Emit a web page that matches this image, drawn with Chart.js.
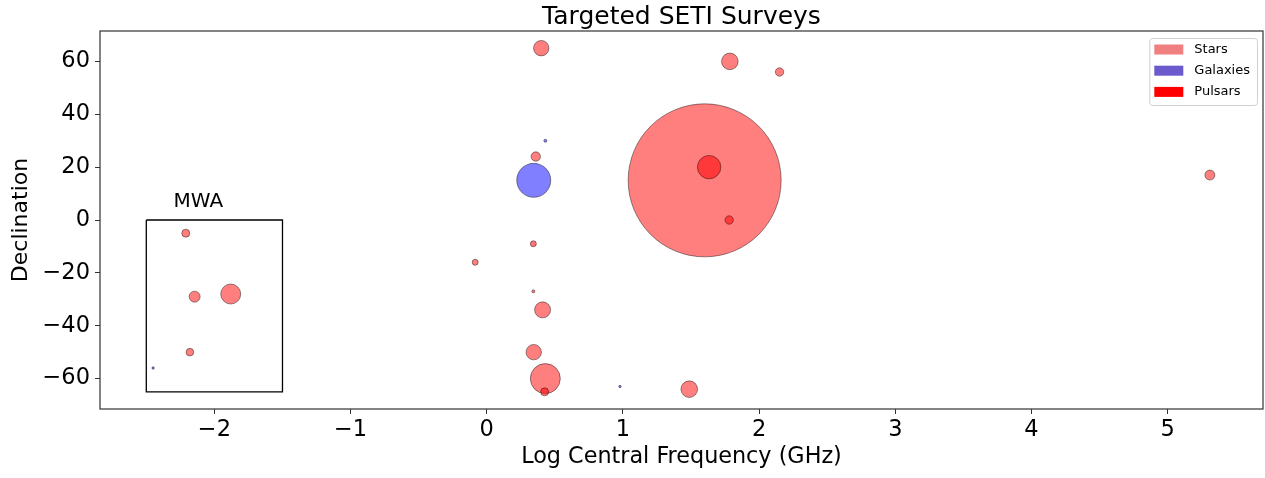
<!DOCTYPE html>
<html>
<head>
<meta charset="utf-8">
<script src="https://cdn.jsdelivr.net/npm/chart.js@4.4.0/dist/chart.umd.min.js"></script>
<style>
  html, body { margin: 0; padding: 0; background: #fff; }
  #wrap { width: 1265px; height: 478px; }
</style>
</head>
<body>
<div id="wrap"><canvas id="seti"></canvas></div>
<script>
// log10 central frequency (GHz), declination (deg), marker radius (px)
const starFreq = [0.40, 1.785, 2.15, 1.60, 0.36, 5.31, -0.085, -2.21, -2.145, -1.88, -2.18, 0.41, 0.345, 0.43, 1.487, 0.342];
const starDec  = [65, 60, 56, 15, 24, 17, -16, -5, -29, -28, -50, -34, -50, -60, -64, -27];
const starSize = [7.7, 8.3, 4.2, 76.5, 4.7, 5, 3, 4, 5.5, 10, 3.8, 8, 7.7, 15, 8.3, 1.5];

const galaxyFreq = [0.345, 0.43, 0.978, -2.45];
const galaxyDec  = [15, 30, -63, -56];
const galaxySize = [17, 1.5, 1.2, 1.2];

const pulsarFreq = [1.633, 1.78, 0.342, 0.425];
const pulsarDec  = [20, 0, -9, -65];
const pulsarSize = [11.7, 4.2, 3, 4];

// MWA survey region
const mwaFreq = [-2.5, -1.5, -1.5, -2.5, -2.5];
const mwaDec  = [0, 0, -65, -65, 0];

const xTicks = [-2, -1, 0, 1, 2, 3, 4, 5];
const yTicks = [-60, -40, -20, 0, 20, 40, 60];

const legendNames  = ['Stars', 'Galaxies', 'Pulsars'];
const legendColors = ['#f08080', '#6a5acd', '#ff0000'];

function points(xs, ys, rs) {
  return xs.map((x, i) => ({ x: x, y: ys[i], r: rs ? rs[i] : 0 }));
}

function minus(v) {
  return String(v).replace('-', '\u2212');
}

Chart.defaults.font.family = "'DejaVu Sans', sans-serif";
Chart.defaults.color = '#000';

// axes box on all four sides
const frame = {
  id: 'frame',
  afterDraw(chart) {
    const { ctx, chartArea: a } = chart;
    ctx.save();
    ctx.strokeStyle = '#333';
    ctx.lineWidth = 1.2;
    ctx.strokeRect(a.left, a.top, a.right - a.left, a.bottom - a.top);
    ctx.restore();
  }
};

// MWA label and the legend box in the upper right
const extras = {
  id: 'extras',
  afterDraw(chart) {
    const { ctx, chartArea: a } = chart;
    const sx = chart.scales.x, sy = chart.scales.y;
    ctx.save();
    ctx.fillStyle = '#000';
    ctx.font = "20px 'DejaVu Sans'";
    ctx.textAlign = 'left';
    ctx.textBaseline = 'alphabetic';
    ctx.fillText('MWA', sx.getPixelForValue(-2.3), sy.getPixelForValue(5));

    ctx.font = "13px 'DejaVu Sans'";
    const textW = Math.max(...legendNames.map(t => ctx.measureText(t).width));
    const w = 5 + 29 + 11 + textW + 7;
    const h = 67;
    const x0 = a.right - 6 - w, y0 = a.top + 7;
    ctx.fillStyle = 'rgba(255,255,255,0.8)';
    ctx.strokeStyle = '#d0d0d0';
    ctx.lineWidth = 1;
    ctx.beginPath();
    ctx.roundRect(x0 + 0.5, y0 + 0.5, w, h, 3);
    ctx.fill();
    ctx.stroke();
    ctx.textBaseline = 'middle';
    legendNames.forEach((name, i) => {
      const cy = y0 + 11.5 + i * 21.2;
      ctx.fillStyle = legendColors[i];
      ctx.fillRect(x0 + 5, cy - 5, 29, 10);
      ctx.fillStyle = '#000';
      ctx.fillText(name, x0 + 45, cy);
    });
    ctx.restore();
  }
};

const edge = 'rgba(0,0,0,0.42)';

new Chart(document.getElementById('seti'), {
  type: 'bubble',
  data: {
    datasets: [
      {
        label: 'Stars',
        data: points(starFreq, starDec, starSize),
        backgroundColor: 'rgba(255,0,0,0.5)',
        borderColor: edge,
        borderWidth: 1,
        order: 3
      },
      {
        label: 'Galaxies',
        data: points(galaxyFreq, galaxyDec, galaxySize),
        backgroundColor: 'rgba(0,0,255,0.5)',
        borderColor: edge,
        borderWidth: 1,
        order: 2
      },
      {
        label: 'Pulsars',
        data: points(pulsarFreq, pulsarDec, pulsarSize),
        backgroundColor: 'rgba(255,0,0,0.55)',
        borderColor: edge,
        borderWidth: 1,
        order: 1
      },
      {
        type: 'line',
        label: 'MWA',
        data: points(mwaFreq, mwaDec),
        borderColor: '#000',
        borderWidth: 1.3,
        pointRadius: 0,
        fill: false,
        tension: 0,
        order: 4
      }
    ]
  },
  options: {
    responsive: true,
    maintainAspectRatio: false,
    animation: false,
    events: [],
    layout: { autoPadding: false, padding: { left: 0, right: 2, top: 0, bottom: 0 } },
    plugins: {
      legend: { display: false },
      tooltip: { enabled: false },
      title: {
        display: true,
        fullSize: false,
        text: 'Targeted SETI Surveys',
        color: '#000',
        font: { size: 25, weight: 'normal', lineHeight: 1 },
        padding: { top: 5, bottom: 1 }
      }
    },
    scales: {
      x: {
        type: 'linear',
        min: -2.84,
        max: 5.70,
        afterFit(scale) { scale.height = 69; },
        afterBuildTicks(scale) { scale.ticks = xTicks.map(v => ({ value: v })); },
        border: { display: false },
        grid: { drawOnChartArea: false, tickLength: 5, tickColor: '#333' },
        ticks: { font: { size: 22.5 }, color: '#000', padding: 3, callback: v => minus(v) },
        title: {
          display: true,
          text: 'Log Central Frequency (GHz)',
          color: '#000',
          font: { size: 22.3 },
          padding: { top: 0, bottom: 7 }
        }
      },
      y: {
        type: 'linear',
        min: -71.5,
        max: 71.5,
        afterFit(scale) { scale.width = 100; },
        afterBuildTicks(scale) { scale.ticks = yTicks.map(v => ({ value: v })); },
        border: { display: false },
        grid: { drawOnChartArea: false, tickLength: 5, tickColor: '#333' },
        ticks: { font: { size: 22.5 }, color: '#000', padding: 5, callback: v => minus(v) },
        title: {
          display: true,
          text: 'Declination',
          color: '#000',
          font: { size: 22 },
          padding: { top: 8, bottom: 0 }
        }
      }
    }
  },
  plugins: [frame, extras]
});
</script>
</body>
</html>
